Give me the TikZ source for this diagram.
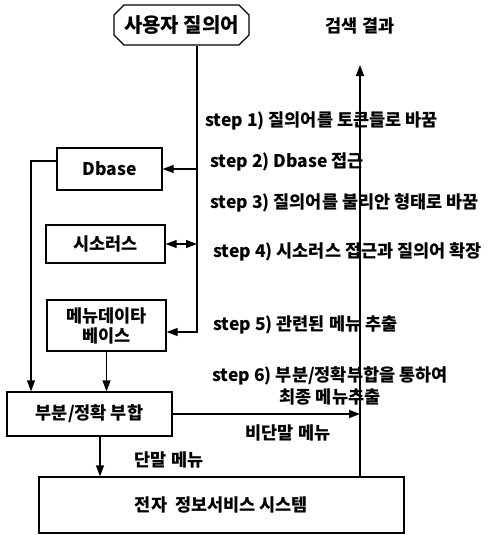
\documentclass[tikz,border=0pt]{standalone}
\usepackage{fontspec}
\setmainfont{Noto Sans CJK KR}
\usetikzlibrary{arrows.meta,positioning,shapes.misc}
\tikzset{
  box/.style={rectangle, draw=black, line width=1.3pt, align=center, inner sep=0pt, font=\bfseries\fontsize{17.5}{20}\selectfont},
  query/.style={chamfered rectangle, chamfered rectangle xsep=5pt, chamfered rectangle ysep=5pt, draw=black, line width=1.3pt, inner sep=0pt, font=\bfseries\fontsize{20}{22}\selectfont},
  steplabel/.style={anchor=west, inner sep=0pt, align=center, font=\bfseries\fontsize{17.5}{22}\selectfont},
  link/.style={line width=1.3pt, draw=black},
  arrow/.style={-{Triangle[length=11pt,width=8pt]}, line width=1.3pt, draw=black}
}
\begin{document}
\begin{tikzpicture}[x=1pt, y=-1pt]
\useasboundingbox (0,0) rectangle (490,535);
\node[query, minimum width=135pt, minimum height=40pt] (query) at (181.5,25) {사용자 질의어};
\node[box, minimum width=105pt, minimum height=42pt] (dbase) at (109.5,169) {Dbase};
\node[box, minimum width=119pt, minimum height=38pt] (thes) at (105.5,244) {시소러스};
\node[box, minimum width=119pt, minimum height=51pt] (menudb) at (106.5,325.5) {메뉴데이타\\베이스};
\node[box, minimum width=165pt, minimum height=44pt] (match) at (89.5,414) {부분/정확 부합};
\node[box, minimum width=365pt, minimum height=56pt] (system) at (221.5,505) {전자\ \ 정보서비스 시스템};
\node[steplabel, anchor=center] (result) at (360,26) {검색 결과};
\node[steplabel] (s1) at (205,121) {step 1) 질의어를 토큰들로 바꿈};
\node[steplabel] (s2) at (210,162) {step 2) Dbase 접근};
\node[steplabel] (s3) at (210,203) {step 3) 질의어를 불리안 형태로 바꿈};
\node[steplabel] (s4) at (213,252) {step 4) 시소러스 접근과 질의어 확장};
\node[steplabel] (s5) at (213,325) {step 5) 관련된  메뉴 추출};
\node[steplabel, anchor=center] (s6) at (330,386) {step 6) 부분/정확부합을 통하여\\최종 메뉴추출};
\node[steplabel, anchor=center] (nonleaf) at (288,433) {비단말 메뉴};
\node[steplabel, anchor=center] (leaf) at (169,460) {단말 메뉴};
\coordinate (spine) at (197,332); \coordinate (lx) at (31,0); \coordinate (up) at (360,65);
\draw[arrow] (query.south -| spine) -- (spine) -- (spine -| menudb.east);
\draw[arrow] (dbase.east -| spine) -- (dbase.east);
\draw[{Triangle[length=11pt,width=8pt]}-{Triangle[length=11pt,width=8pt]}, link] (thes.east) -- (thes.east -| spine);
\draw[arrow] ([yshift=8pt]dbase.west) -| (lx |- match.north);
\draw[arrow] (menudb.south) -- (menudb.south |- match.north);
\draw[arrow] (match.east) -- (match.east -| up);
\draw[arrow] ([xshift=10.5pt]match.south) -- ([xshift=10.5pt]match.south |- system.north);
\draw[arrow] (system.north -| up) -- (up);
\end{tikzpicture}
\end{document}
